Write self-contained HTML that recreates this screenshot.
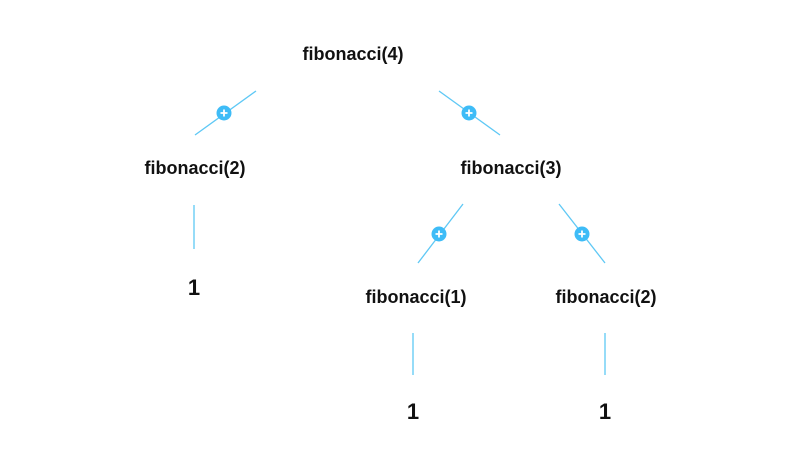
<!DOCTYPE html>
<html><head><style>
html,body{margin:0;padding:0;background:#fff;}
svg{display:block;}
text{font-family:"Liberation Sans",sans-serif;font-weight:bold;fill:#111;text-anchor:middle;}
</style></head><body>
<svg width="800" height="471" viewBox="0 0 800 471">
<g stroke="#5ec8f5" stroke-width="1.3" fill="none">
<line x1="256" y1="91" x2="195" y2="135"/>
<line x1="439" y1="91" x2="500" y2="135"/>
<line x1="463" y1="204" x2="418" y2="263"/>
<line x1="559" y1="204" x2="605" y2="263"/>
<line x1="194" y1="205" x2="194" y2="249"/>
<line x1="413" y1="333" x2="413" y2="375"/>
<line x1="605" y1="333" x2="605" y2="375"/>
</g>
<g fill="#3ebcf7">
<circle cx="224" cy="113" r="7.5"/>
<circle cx="469" cy="113" r="7.5"/>
<circle cx="439" cy="234" r="7.5"/>
<circle cx="582" cy="234" r="7.5"/>
</g>
<g stroke="#fff" stroke-width="1.8">
<path d="M220.5 113h7M224 109.5v7"/>
<path d="M465.5 113h7M469 109.5v7"/>
<path d="M435.5 234h7M439 230.5v7"/>
<path d="M578.5 234h7M582 230.5v7"/>
</g>
<g font-size="18">
<text x="353" y="60">fibonacci(4)</text>
<text x="195" y="174">fibonacci(2)</text>
<text x="511" y="174">fibonacci(3)</text>
<text x="416" y="303">fibonacci(1)</text>
<text x="606" y="303">fibonacci(2)</text>
</g>
<g font-size="22">
<text x="194" y="295">1</text>
<text x="413" y="419">1</text>
<text x="605" y="419">1</text>
</g>
</svg>
</body></html>
